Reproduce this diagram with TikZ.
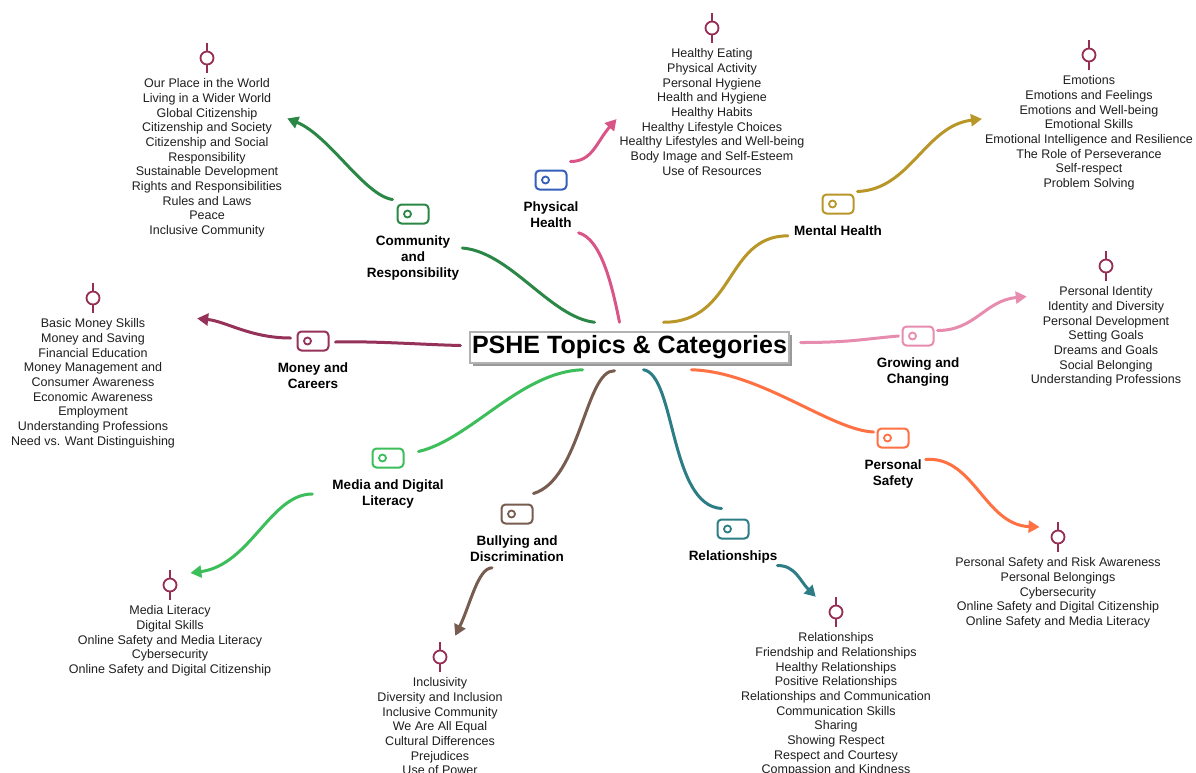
\documentclass[tikz,border=0pt]{standalone}
\usepackage{fontspec}
\setmainfont{Liberation Sans}
\usetikzlibrary{positioning,arrows.meta,shadows}

\definecolor{commc}{RGB}{42,135,70}
\definecolor{physc}{RGB}{217,85,135}
\definecolor{physblue}{RGB}{52,96,186}
\definecolor{mentalc}{RGB}{185,150,40}
\definecolor{growc}{RGB}{232,140,175}
\definecolor{safec}{RGB}{255,112,67}
\definecolor{relc}{RGB}{45,125,135}
\definecolor{bullyc}{RGB}{120,92,80}
\definecolor{mediac}{RGB}{60,190,90}
\definecolor{moneyc}{RGB}{150,50,90}
\definecolor{pinc}{RGB}{150,45,85}

\def\listfont{\fontsize{12.5}{14.7}\selectfont}
\def\catfont{\fontsize{13.5}{16}\selectfont\bfseries}
\def\titlefont{\fontsize{25}{30}\selectfont\bfseries}

\begin{document}
\begin{tikzpicture}[x=1pt,y=-1pt,
  tagbox/.style={draw=#1,line width=2pt,rounded corners=4pt,minimum width=31pt,minimum height=19pt,inner sep=0pt,
    path picture={\draw[#1,line width=1.8pt] ([xshift=10pt]path picture bounding box.west) circle (3.5pt);}},
  catlabel/.style={align=center,font=\catfont,inner sep=0pt,text=black},
  topicpin/.style={circle,draw=pinc,line width=1.8pt,minimum size=13pt,inner sep=0pt},
  pinline/.style={draw=pinc,line width=1.8pt},
  topiclist/.style={align=center,font=\listfont,inner sep=0pt,text=black!88},
  branch/.style={line width=3pt,line cap=round},
  arrowline/.style={branch,-{Triangle[length=11pt,width=12pt]}},
  title/.style={draw=gray!60,line width=1.5pt,fill=white,font=\titlefont,inner xsep=2pt,inner ysep=0pt,
    minimum height=31pt,drop shadow={shadow xshift=3pt,shadow yshift=-3pt,fill=black!40,opacity=1}}
  ]
  \useasboundingbox (0,0) rectangle (1196,772);
  \clip (0,0) rectangle (1196,772);
  \fill[white] (0,0) rectangle (1196,772);

  \node[title] (title) at (629.5,347.5) {PSHE Topics \& Categories};

  % category tags and names
  \foreach \c/\x/\y/\col/\txt in {
      comm/413/214/commc/{Community\\and\\Responsibility},
      phys/551/180/physblue/{Physical\\Health},
      mental/838/204/mentalc/{Mental Health},
      grow/918/336/growc/{Growing and\\Changing},
      safe/893/438/safec/{Personal\\Safety},
      rel/733/529/relc/{Relationships},
      bully/517/514/bullyc/{Bullying and\\Discrimination},
      media/388/458/mediac/{Media and Digital\\Literacy},
      money/313/341/moneyc/{Money and\\Careers}} {
    \node[tagbox=\col] (tag\c) at (\x,\y) {};
    \node[catlabel,below=11pt of tag\c] (\c) {\txt};
  }

  % topic pins
  \foreach \p/\x/\y in {comm/207/58, phys/712/28, mental/1089/55, grow/1106/266,
      safe/1058/537, rel/836/612, bully/440/657, media/170/585, money/93/298} {
    \node[topicpin] (pin\p) at (\x,\y) {};
    \draw[pinline] (pin\p.north) -- ++(0,-8) (pin\p.south) -- ++(0,8);
  }

  \node[topiclist,below=13pt of pincomm] (listcomm) {Our Place in the World\\Living in a Wider World\\Global Citizenship\\Citizenship and Society\\Citizenship and Social\\Responsibility\\Sustainable Development\\Rights and Responsibilities\\Rules and Laws\\Peace\\Inclusive Community};
  \node[topiclist,below=13pt of pinphys] (listphys) {Healthy Eating\\Physical Activity\\Personal Hygiene\\Health and Hygiene\\Healthy Habits\\Healthy Lifestyle Choices\\Healthy Lifestyles and Well-being\\Body Image and Self-Esteem\\Use of Resources};
  \node[topiclist,below=13pt of pinmental] (listmental) {Emotions\\Emotions and Feelings\\Emotions and Well-being\\Emotional Skills\\Emotional Intelligence and Resilience\\The Role of Perseverance\\Self-respect\\Problem Solving};
  \node[topiclist,below=13pt of pingrow] (listgrow) {Personal Identity\\Identity and Diversity\\Personal Development\\Setting Goals\\Dreams and Goals\\Social Belonging\\Understanding Professions};
  \node[topiclist,below=13pt of pinsafe] (listsafe) {Personal Safety and Risk Awareness\\Personal Belongings\\Cybersecurity\\Online Safety and Digital Citizenship\\Online Safety and Media Literacy};
  \node[topiclist,below=13pt of pinrel] (listrel) {Relationships\\Friendship and Relationships\\Healthy Relationships\\Positive Relationships\\Relationships and Communication\\Communication Skills\\Sharing\\Showing Respect\\Respect and Courtesy\\Compassion and Kindness};
  \node[topiclist,below=13pt of pinbully] (listbully) {Inclusivity\\Diversity and Inclusion\\Inclusive Community\\We Are All Equal\\Cultural Differences\\Prejudices\\Use of Power};
  \node[topiclist,below=13pt of pinmedia] (listmedia) {Media Literacy\\Digital Skills\\Online Safety and Media Literacy\\Cybersecurity\\Online Safety and Digital Citizenship};
  \node[topiclist,below=13pt of pinmoney] (listmoney) {Basic Money Skills\\Money and Saving\\Financial Education\\Money Management and\\Consumer Awareness\\Economic Awareness\\Employment\\Understanding Professions\\Need vs. Want Distinguishing};

  % branches from the title
  \draw[branch,commc] ([xshift=3pt,yshift=10pt]comm.east) .. controls +(48,4) and +(-44,-5) .. ([xshift=-35pt,yshift=9pt]title.north);
  \draw[branch,physc] ([yshift=-5pt]phys.south east) .. controls +(22,6) and +(-8,-40) .. ([xshift=-10pt,yshift=9pt]title.north);
  \draw[branch,mentalc] ([xshift=34pt,yshift=9pt]title.north) .. controls +(72,0) and +(-63,0) .. ([xshift=-6pt]mental.south west);
  \draw[branch,growc] ([xshift=11pt,yshift=5pt]title.east) .. controls +(50,0) and +(-35,3) .. ([xshift=-3pt]taggrow.west);
  \draw[branch,safec] ([xshift=62pt,yshift=-6pt]title.south) .. controls +(69,2) and +(-43,-2) .. ([xshift=-3pt,yshift=6pt]tagsafe.west);
  \draw[branch,relc] ([xshift=14pt,yshift=-6pt]title.south) .. controls +(32,5) and +(-52,-3) .. ([xshift=5pt,yshift=10pt]tagrel.north west);
  \draw[branch,bullyc] ([xshift=-15pt,yshift=-7pt]title.south) .. controls +(-29,-1) and +(47,-14) .. ([yshift=10pt]tagbully.north east);
  \draw[branch,mediac] ([xshift=-47pt,yshift=-6pt]title.south) .. controls +(-62,2) and +(52,-12) .. ([xshift=14pt,yshift=-4pt]tagmedia.north east);
  \draw[branch,moneyc] ([xshift=-9pt,yshift=2pt]title.west) .. controls +(-40,-1) and +(40,-1) .. ([xshift=6pt,yshift=-1pt]tagmoney.east);

  % arrows to the topics
  \draw[arrowline,commc] ([xshift=-4pt,yshift=4pt]tagcomm.north west) .. controls +(-28,-4) and +(42,17) .. ([xshift=5pt,yshift=-40pt]listcomm.north east);
  \draw[arrowline,physc] ([xshift=3pt,yshift=8pt]tagphys.north east) .. controls +(22,0) and +(-20,23) .. ([xshift=-3pt,yshift=-7pt]listphys.west);
  \draw[arrowline,mentalc] ([xshift=3pt,yshift=2pt]tagmental.north east) .. controls +(53,-2) and +(-57,7) .. ([xshift=-3pt,yshift=14pt]listmental.west);
  \draw[arrowline,growc] ([xshift=3pt,yshift=-5pt]taggrow.north east) .. controls +(38,0) and +(-42,4) .. ([xshift=-4pt,yshift=40pt]listgrow.west);
  \draw[arrowline,safec] ([xshift=4pt]safe.north east) .. controls +(48,-4) and +(-55,-2) .. ([xshift=-11pt,yshift=10pt]pinsafe.west);
  \draw[arrowline,relc] ([yshift=-2pt]rel.south east) .. controls +(18,0) and +(-16,-16) .. ([xshift=-15pt,yshift=10pt]pinrel.north west);
  \draw[arrowline,bullyc] ([xshift=-25pt,yshift=-6pt]bully.south) .. controls +(-14,0) and +(15,-31) .. ([xshift=10pt,yshift=16pt]pinbully.north east);
  \draw[arrowline,mediac] ([xshift=-20pt]media.west) .. controls +(-42,0) and +(60,-8) .. ([xshift=13pt,yshift=12pt]pinmedia.east);
  \draw[arrowline,moneyc] ([xshift=-6pt,yshift=3pt]tagmoney.west) .. controls +(-40,0) and +(29,3) .. ([xshift=22pt]listmoney.north east);
\end{tikzpicture}
\end{document}
